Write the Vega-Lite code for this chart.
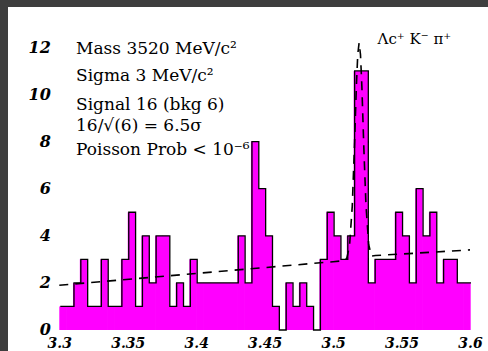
{
  "$schema": "https://vega.github.io/schema/vega-lite/v6.json",
  "width": 480,
  "height": 344,
  "autosize": {"type": "none"},
  "padding": {"left": 8, "top": 7, "right": 0, "bottom": 0},
  "background": "#3e3e3e",
  "config": {"view": {"fill": "white", "stroke": null}},
  "datasets": {
    "bins": [
      {"lo": 3.300, "hi": 3.305, "n": 1}, {"lo": 3.305, "hi": 3.310, "n": 1},
      {"lo": 3.310, "hi": 3.315, "n": 2}, {"lo": 3.315, "hi": 3.320, "n": 3},
      {"lo": 3.320, "hi": 3.325, "n": 1}, {"lo": 3.325, "hi": 3.330, "n": 1},
      {"lo": 3.330, "hi": 3.335, "n": 3}, {"lo": 3.335, "hi": 3.340, "n": 1},
      {"lo": 3.340, "hi": 3.345, "n": 1}, {"lo": 3.345, "hi": 3.350, "n": 3},
      {"lo": 3.350, "hi": 3.355, "n": 5}, {"lo": 3.355, "hi": 3.360, "n": 1},
      {"lo": 3.360, "hi": 3.365, "n": 4}, {"lo": 3.365, "hi": 3.370, "n": 2},
      {"lo": 3.370, "hi": 3.375, "n": 4}, {"lo": 3.375, "hi": 3.380, "n": 4},
      {"lo": 3.380, "hi": 3.385, "n": 1}, {"lo": 3.385, "hi": 3.390, "n": 2},
      {"lo": 3.390, "hi": 3.395, "n": 1}, {"lo": 3.395, "hi": 3.400, "n": 3},
      {"lo": 3.400, "hi": 3.405, "n": 2}, {"lo": 3.405, "hi": 3.410, "n": 2},
      {"lo": 3.410, "hi": 3.415, "n": 2}, {"lo": 3.415, "hi": 3.420, "n": 2},
      {"lo": 3.420, "hi": 3.425, "n": 2}, {"lo": 3.425, "hi": 3.430, "n": 2},
      {"lo": 3.430, "hi": 3.435, "n": 4}, {"lo": 3.435, "hi": 3.440, "n": 2},
      {"lo": 3.440, "hi": 3.445, "n": 8}, {"lo": 3.445, "hi": 3.450, "n": 6},
      {"lo": 3.450, "hi": 3.455, "n": 4}, {"lo": 3.455, "hi": 3.460, "n": 1},
      {"lo": 3.460, "hi": 3.465, "n": 0}, {"lo": 3.465, "hi": 3.470, "n": 2},
      {"lo": 3.470, "hi": 3.475, "n": 1}, {"lo": 3.475, "hi": 3.480, "n": 2},
      {"lo": 3.480, "hi": 3.485, "n": 1}, {"lo": 3.485, "hi": 3.490, "n": 0},
      {"lo": 3.490, "hi": 3.495, "n": 3}, {"lo": 3.495, "hi": 3.500, "n": 5},
      {"lo": 3.500, "hi": 3.505, "n": 4}, {"lo": 3.505, "hi": 3.510, "n": 3},
      {"lo": 3.510, "hi": 3.515, "n": 4}, {"lo": 3.515, "hi": 3.520, "n": 11},
      {"lo": 3.520, "hi": 3.525, "n": 11}, {"lo": 3.525, "hi": 3.530, "n": 2},
      {"lo": 3.530, "hi": 3.535, "n": 3}, {"lo": 3.535, "hi": 3.540, "n": 3},
      {"lo": 3.540, "hi": 3.545, "n": 3}, {"lo": 3.545, "hi": 3.550, "n": 5},
      {"lo": 3.550, "hi": 3.555, "n": 4}, {"lo": 3.555, "hi": 3.560, "n": 2},
      {"lo": 3.560, "hi": 3.565, "n": 6}, {"lo": 3.565, "hi": 3.570, "n": 4},
      {"lo": 3.570, "hi": 3.575, "n": 5}, {"lo": 3.575, "hi": 3.580, "n": 2},
      {"lo": 3.580, "hi": 3.585, "n": 3}, {"lo": 3.585, "hi": 3.590, "n": 3},
      {"lo": 3.590, "hi": 3.595, "n": 2}, {"lo": 3.595, "hi": 3.600, "n": 2}
    ],
    "fit": [
      {"m": 3.300, "f": 1.90}, {"m": 3.500, "f": 2.90}, {"m": 3.507, "f": 2.94},
      {"m": 3.510, "f": 3.05}, {"m": 3.512, "f": 3.56}, {"m": 3.514, "f": 5.26},
      {"m": 3.5155, "f": 7.64}, {"m": 3.517, "f": 10.35}, {"m": 3.518, "f": 11.69},
      {"m": 3.519, "f": 12.20}, {"m": 3.520, "f": 11.70}, {"m": 3.521, "f": 10.37},
      {"m": 3.5225, "f": 7.67}, {"m": 3.524, "f": 5.31}, {"m": 3.526, "f": 3.63},
      {"m": 3.528, "f": 3.14}, {"m": 3.531, "f": 3.16}, {"m": 3.600, "f": 3.40}
    ],
    "one": [{}]
  },
  "layer": [
    {
      "data": {"name": "bins"},
      "transform": [{"filter": "datum.n > 0"}],
      "mark": {"type": "bar", "color": "#ff00ff", "strokeWidth": 0, "x2Offset": 0.7},
      "encoding": {
        "x": {
          "field": "lo", "type": "quantitative",
          "scale": {"domain": [3.26253, 3.61315], "nice": false, "zero": false},
          "axis": {
            "title": null, "values": [3.3, 3.35, 3.4, 3.45, 3.5, 3.55, 3.6], "format": "~g",
            "offset": -21, "domain": false, "ticks": false, "grid": false,
            "labelFont": "DejaVu Serif", "labelFontSize": 14, "labelFontWeight": "bold",
            "labelFontStyle": "italic", "labelColor": "black", "labelPadding": 6,
            "labelFlush": false, "labelOverlap": false, "labelBound": false
          }
        },
        "x2": {"field": "hi"},
        "y": {
          "field": "n", "type": "quantitative",
          "scale": {"domain": [-0.892, 13.715], "nice": false, "zero": false},
          "axis": {
            "title": null, "values": [0, 2, 4, 6, 8, 10, 12],
            "offset": -51.3, "domain": false, "ticks": false, "grid": false,
            "labelFont": "DejaVu Serif", "labelFontSize": 16, "labelFontWeight": "bold",
            "labelFontStyle": "italic", "labelColor": "black", "labelPadding": 9,
            "labelFlush": false, "labelOverlap": false, "labelBound": false
          }
        },
        "y2": {"datum": 0}
      }
    },
    {
      "data": {"name": "bins"},
      "transform": [{"fold": ["lo", "hi"], "as": ["edge", "xe"]}],
      "mark": {"type": "line", "color": "black", "strokeWidth": 1.3, "xOffset": 1},
      "encoding": {
        "x": {"field": "xe", "type": "quantitative"},
        "y": {"field": "n", "type": "quantitative"},
        "order": [
          {"field": "xe", "type": "quantitative"},
          {"field": "edge", "type": "nominal", "sort": "ascending"}
        ]
      }
    },
    {
      "data": {"name": "fit"},
      "mark": {"type": "line", "color": "black", "strokeWidth": 1.6, "strokeDash": [9, 7]},
      "encoding": {
        "x": {"field": "m", "type": "quantitative"},
        "y": {"field": "f", "type": "quantitative"}
      }
    },
    {
      "data": {"name": "one"},
      "mark": {"type": "text", "font": "DejaVu Serif", "fontSize": 17, "align": "left", "baseline": "middle", "color": "black", "text": "Mass 3520 MeV/c²"},
      "encoding": {"x": {"datum": 3.3122}, "y": {"datum": 11.93}}
    },
    {
      "data": {"name": "one"},
      "mark": {"type": "text", "font": "DejaVu Serif", "fontSize": 17, "align": "left", "baseline": "middle", "color": "black", "text": "Sigma 3 MeV/c²"},
      "encoding": {"x": {"datum": 3.3122}, "y": {"datum": 10.79}}
    },
    {
      "data": {"name": "one"},
      "mark": {"type": "text", "font": "DejaVu Serif", "fontSize": 17, "align": "left", "baseline": "middle", "color": "black", "text": "Signal 16 (bkg 6)"},
      "encoding": {"x": {"datum": 3.3122}, "y": {"datum": 9.55}}
    },
    {
      "data": {"name": "one"},
      "mark": {"type": "text", "font": "DejaVu Serif", "fontSize": 17, "align": "left", "baseline": "middle", "color": "black", "text": "16/√(6) = 6.5σ"},
      "encoding": {"x": {"datum": 3.3122}, "y": {"datum": 8.66}}
    },
    {
      "data": {"name": "one"},
      "mark": {"type": "text", "font": "DejaVu Serif", "fontSize": 17, "align": "left", "baseline": "middle", "color": "black", "text": "Poisson Prob < 10⁻⁶"},
      "encoding": {"x": {"datum": 3.3122}, "y": {"datum": 7.64}}
    },
    {
      "data": {"name": "one"},
      "mark": {"type": "text", "font": "DejaVu Serif", "fontSize": 15, "align": "left", "baseline": "middle", "color": "black", "text": "Λc⁺ K⁻ π⁺"},
      "encoding": {"x": {"datum": 3.5325}, "y": {"datum": 12.35}}
    }
  ]
}
